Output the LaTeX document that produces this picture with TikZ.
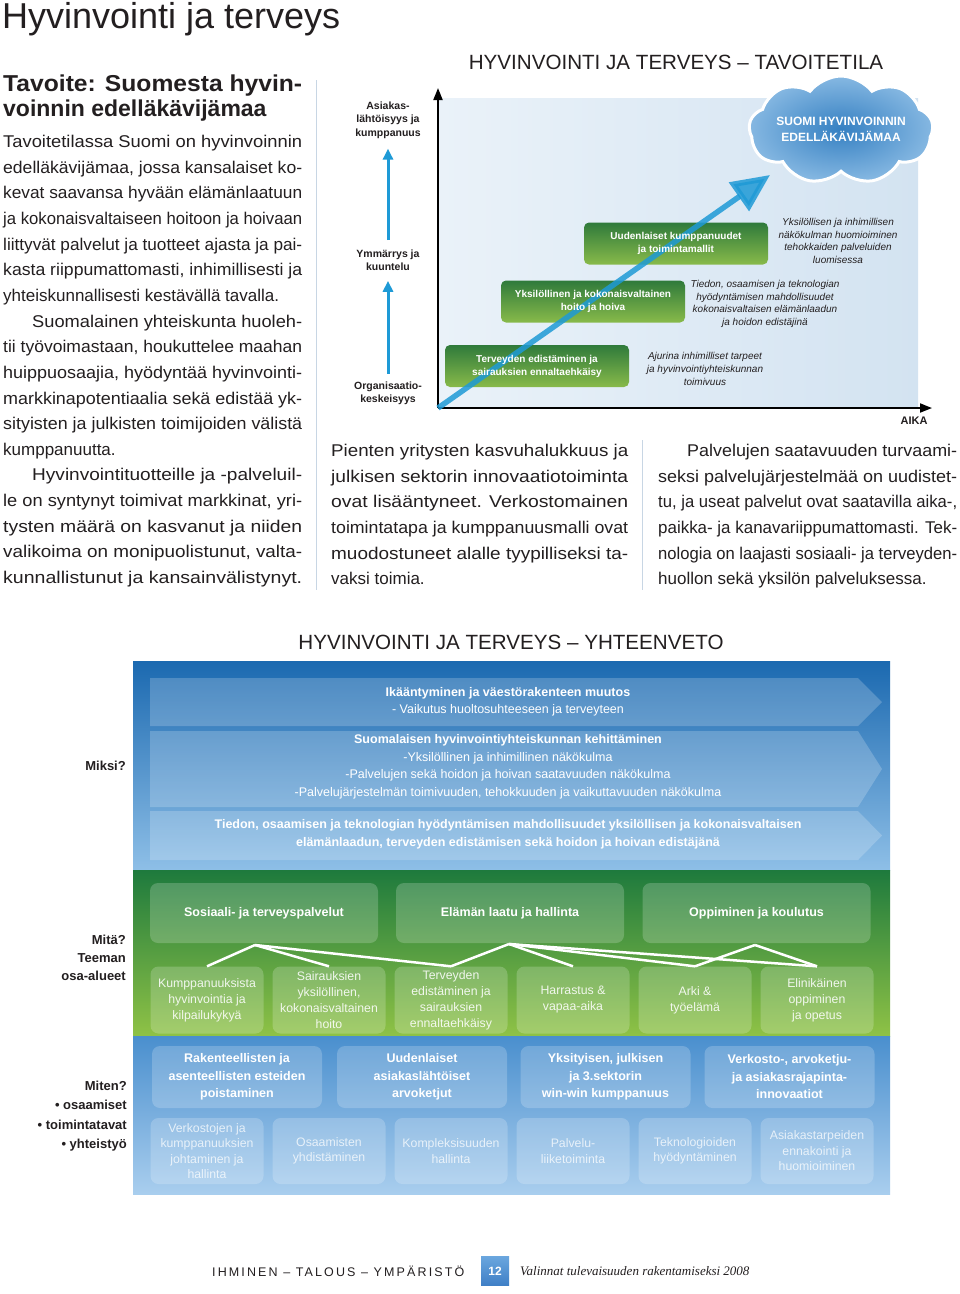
\documentclass[tikz,border=0pt]{standalone}
\usepackage{fontspec}
\usepackage{graphicx}
\setmainfont{Liberation Sans}
\newfontfamily\footserif{Liberation Serif}
\usetikzlibrary{arrows.meta,shapes.symbols}
\definecolor{HTText}{HTML}{231F20}
\definecolor{HTRule}{HTML}{C8D6E4}
\definecolor{HTSky}{HTML}{1E9AD6}
\definecolor{HTChartA}{HTML}{EAF2F9}
\definecolor{HTChartB}{HTML}{D3E3F1}
\definecolor{HTLeafDark}{HTML}{2F7A3B}
\definecolor{HTLeafLight}{HTML}{88BA4A}
\definecolor{HTCloudIn}{HTML}{3580C2}
\definecolor{HTCloudOut}{HTML}{86B8E2}
\definecolor{HTNavy}{HTML}{1B69B0}
\definecolor{HTPale}{HTML}{8EBFE7}
\definecolor{HTForest}{HTML}{1E7A3D}
\definecolor{HTLime}{HTML}{8FC246}
\definecolor{HTMid}{HTML}{4A8FCE}
\definecolor{HTIce}{HTML}{A9CEEE}
\definecolor{HTPageTop}{HTML}{6AA6DE}
\definecolor{HTPageBot}{HTML}{3F7FC6}
\newsavebox\jlbox
\newcommand\jl[2][299pt]{\sbox\jlbox{#2}\resizebox{#1}{\ht\jlbox}{\usebox\jlbox}}
\tikzset{
  body/.style={anchor=north west,inner sep=0pt,align=left,text=HTText,font=\fontsize{17}{25.65}\selectfont},
  axislabel/.style={align=center,inner sep=0pt,text=HTText,font=\fontsize{10.5}{13.5}\selectfont\bfseries},
  climb/.style={HTSky,line width=3pt,-{Triangle[length=11pt,width=10pt]}},
  axis/.style={black,line width=1.8pt,-{Triangle[length=12pt,width=9pt]}},
  rise/.style={HTSky,line width=5.5pt,opacity=.85,-{Triangle[length=38pt,width=34pt]}},
  stagebox/.style={rounded corners=5pt,top color=HTLeafDark,bottom color=HTLeafLight,minimum width=184pt,minimum height=42pt,inner sep=0pt},
  stagetext/.style={align=center,inner sep=0pt,text=white,font=\fontsize{10}{13}\selectfont\bfseries},
  note/.style={align=center,inner sep=0pt,text=HTText,font=\fontsize{10}{12.7}\selectfont\itshape},
  band/.style={fill=white,fill opacity=.2},
  bandtext/.style={align=center,inner sep=0pt,text=white,font=\fontsize{12.5}{17.5}\selectfont},
  sidelabel/.style={anchor=east,align=right,inner sep=0pt,text=HTText,font=\fontsize{13}{18}\selectfont\bfseries},
  tile/.style={rounded corners=8pt,fill=white,fill opacity=.2,text opacity=1,inner sep=0pt,align=center,text=white},
  areatile/.style={tile,minimum width=228pt,minimum height=60pt,font=\fontsize{12.5}{17.5}\selectfont\bfseries},
  subtile/.style={tile,minimum width=113pt,minimum height=67pt,text opacity=.88,font=\fontsize{12.3}{16}\selectfont},
  waytile/.style={tile,minimum width=170pt,minimum height=62pt,font=\fontsize{12.5}{17.5}\selectfont\bfseries},
  howtile/.style={tile,minimum width=113pt,minimum height=66pt,text opacity=.75,font=\fontsize{12.3}{15.5}\selectfont},
  twig/.style={white,line width=2.5pt}
}
\begin{document}
\begin{tikzpicture}[x=1pt,y=-1pt]
\path[use as bounding box] (0,0) rectangle (960,1294);
\fill[white] (0,0) rectangle (960,1294);
% page heading
\node[anchor=base west,inner sep=0pt,text=HTText,font=\fontsize{36}{40}\selectfont] (pagetitle) at (2,28) {Hyvinvointi ja terveys};
% left column
\node[body,font=\fontsize{23}{25}\selectfont\bfseries] (goalhead) at (3,75) {\jl{Tavoite: Suomesta hyvin-}\\voinnin edelläkävijämaa};
\node[body] (goaltext) at (3,135) {%
\jl{Tavoitetilassa Suomi on hyvinvoinnin}\\
\jl{edelläkävijämaa, jossa kansalaiset ko-}\\
\jl{kevat saavansa hyvään elämänlaatuun}\\
\jl{ja kokonaisvaltaiseen hoitoon ja hoivaan}\\
\jl{liittyvät palvelut ja tuotteet ajasta ja pai-}\\
\jl{kasta riippumattomasti, inhimillisesti ja}\\
yhteiskunnallisesti kestävällä tavalla.\\
\hspace*{29pt}\jl[270pt]{Suomalainen yhteiskunta huoleh-}\\
\jl{tii työvoimastaan, houkuttelee maahan}\\
\jl{huippuosaajia, hyödyntää hyvinvointi-}\\
\jl{markkinapotentiaalia sekä edistää yk-}\\
\jl{sityisten ja julkisten toimijoiden välistä}\\
kumppanuutta.\\
\hspace*{29pt}\jl[270pt]{Hyvinvointituotteille ja -palveluil-}\\
\jl{le on syntynyt toimivat markkinat, yri-}\\
\jl{tysten määrä on kasvanut ja niiden}\\
\jl{valikoima on monipuolistunut, valta-}\\
\jl{kunnallistunut ja kansainvälistynyt.}};
\draw[HTRule,line width=1pt] (316,80) -- (316,590);
\draw[HTRule,line width=1pt] (642,440) -- (642,590);
% middle and right columns
\node[body] (smetext) at (331,444) {%
\jl[297pt]{Pienten yritysten kasvuhalukkuus ja}\\
\jl[297pt]{julkisen sektorin innovaatiotoiminta}\\
\jl[297pt]{ovat lisääntyneet. Verkostomainen}\\
\jl[297pt]{toimintatapa ja kumppanuusmalli ovat}\\
\jl[297pt]{muodostuneet alalle tyypilliseksi ta-}\\
vaksi toimia.};
\node[body] (servtext) at (658,444) {%
\hspace*{29pt}\jl[270pt]{Palvelujen saatavuuden turvaami-}\\
\jl{seksi palvelujärjestelmää on uudistet-}\\
\jl{tu, ja useat palvelut ovat saatavilla aika-,}\\
\jl{paikka- ja kanavariippumattomasti. Tek-}\\
\jl{nologia on laajasti sosiaali- ja terveyden-}\\
huollon sekä yksilön palveluksessa.};
% target state chart
\node[inner sep=0pt,text=HTText,font=\fontsize{20.6}{24}\selectfont] (charttitle) at (676,62) {HYVINVOINTI JA TERVEYS – TAVOITETILA};
\shade[left color=HTChartA,right color=HTChartB] (438,98) rectangle (918,408);
\node[axislabel] (asi) at (388,120) {Asiakas-\\lähtöisyys ja\\kumppanuus};
\node[axislabel] (ymm) at (388,260) {Ymmärrys ja\\kuuntelu};
\node[axislabel] (org) at (388,393.5) {Organisaatio-\\keskeisyys};
\draw[climb] ([yshift=9pt]ymm.north) -- ([yshift=-10pt]asi.south);
\draw[climb] ([yshift=8pt]org.north) -- ([yshift=-10pt]ymm.south);
\coordinate (o) at (438,408);
\coordinate (ytip) at (438,88);
\coordinate (xtip) at (932,408);
\coordinate (risetip) at (770,175);
\draw[axis] (o) -- (ytip);
\draw[axis] (o) -- (xtip);
\node[inner sep=0pt,text=HTText,font=\fontsize{11}{13}\selectfont\bfseries] (aika) at (914,421) {AIKA};
\node[cloud,cloud puffs=9,cloud puff arc=105,cloud ignores aspect,minimum width=184pt,minimum height=108pt,inner sep=0pt,inner color=HTCloudIn,outer color=HTCloudOut,draw=white,line width=3pt] (goal) at (841,130) {};
\node[align=center,inner sep=0pt,text=white,font=\fontsize{12}{16}\selectfont\bfseries] (goaltext) at (841,129.5) {SUOMI HYVINVOINNIN\\EDELLÄKÄVIJÄMAA};
\node[stagebox] (stage1) at (537,366) {};
\node[stagebox] (stage2) at (593,301.5) {};
\node[stagebox] (stage3) at (676,243.5) {};
\draw[rise] (o) -- (risetip);
\node[stagetext] at (stage1) {Terveyden edistäminen ja\\sairauksien ennaltaehkäisy};
\node[stagetext] at (stage2) {Yksilöllinen ja kokonaisvaltainen\\hoito ja hoiva};
\node[stagetext] at (stage3) {Uudenlaiset kumppanuudet\\ja toimintamallit};
\node[note] (note1) at (705,369) {Ajurina inhimilliset tarpeet\\ja hyvinvointiyhteiskunnan\\toimivuus};
\node[note] (note2) at (765,304) {Tiedon, osaamisen ja teknologian\\hyödyntämisen mahdollisuudet\\kokonaisvaltaisen elämänlaadun\\ja hoidon edistäjinä};
\node[note] (note3) at (838,241) {Yksilöllisen ja inhimillisen\\näkökulman huomioiminen\\tehokkaiden palveluiden\\luomisessa};
% summary
\node[inner sep=0pt,text=HTText,font=\fontsize{20.6}{24}\selectfont] (sumtitle) at (511,642) {HYVINVOINTI JA TERVEYS – YHTEENVETO};
\shade[top color=HTNavy,bottom color=HTPale] (133,661) rectangle (890,870);
\shade[top color=HTForest,bottom color=HTLime] (133,870) rectangle (890,1036);
\shade[top color=HTMid,bottom color=HTIce] (133,1036) rectangle (890,1194);
\fill[band] (150,678) -- (858,678) -- (882,702) -- (858,726) -- (150,726) -- cycle;
\fill[band] (150,731) -- (858,731) -- (882,769) -- (858,807) -- (150,807) -- cycle;
\fill[band] (150,811) -- (858,811) -- (882,835.5) -- (858,860) -- (150,860) -- cycle;
\node[bandtext] (why1) at (508,702) {\textbf{Ikääntyminen ja väestörakenteen muutos}\\- Vaikutus huoltosuhteeseen ja terveyteen};
\node[bandtext] (why2) at (508,767) {\textbf{Suomalaisen hyvinvointiyhteiskunnan kehittäminen}\\-Yksilöllinen ja inhimillinen näkökulma\\-Palvelujen sekä hoidon ja hoivan saatavuuden näkökulma\\-Palvelujärjestelmän toimivuuden, tehokkuuden ja vaikuttavuuden näkökulma};
\node[bandtext,font=\fontsize{12.5}{17.5}\selectfont\bfseries] (why3) at (508,834.5) {Tiedon, osaamisen ja teknologian hyödyntämisen mahdollisuudet yksilöllisen ja kokonaisvaltaisen\\elämänlaadun, terveyden edistämisen sekä hoidon ja hoivan edistäjänä};
\node[sidelabel] (miksi) at (126,766) {Miksi?};
\node[sidelabel] (mita) at (126,958) {Mitä?\\Teeman\\osa-alueet};
\node[sidelabel,font=\fontsize{13}{19.3}\selectfont\bfseries] (miten) at (127,1116) {Miten?\\\textbullet\ osaamiset\\\textbullet\ toimintatavat\\\textbullet\ yhteistyö};
% theme areas
\node[areatile] (area1) at (264,913) {Sosiaali- ja terveyspalvelut};
\node[areatile] (area2) at (510,913) {Elämän laatu ja hallinta};
\node[areatile] (area3) at (756.5,913) {Oppiminen ja koulutus};
\node[subtile] (sub1) at (207,1000) {Kumppanuuksista\\hyvinvointia ja\\kilpailukykyä};
\node[subtile] (sub2) at (329,1000) {Sairauksien\\yksilöllinen,\\kokonaisvaltainen\\hoito};
\node[subtile] (sub3) at (451,1000) {Terveyden\\edistäminen ja\\sairauksien\\ennaltaehkäisy};
\node[subtile] (sub4) at (573,1000) {Harrastus \&\\vapaa-aika};
\node[subtile] (sub5) at (695,1000) {Arki \&\\työelämä};
\node[subtile] (sub6) at (817,1000) {Elinikäinen\\oppiminen\\ja opetus};
\coordinate (jA) at (255,945);
\coordinate (jB) at (509,944);
\coordinate (jC) at (755,945);
\draw[twig] (jA) -- (sub1.north);
\draw[twig] (jA) -- (sub2.north);
\draw[twig] (jA) -- (sub3.north);
\draw[twig] (jB) -- (sub3.north);
\draw[twig] (jB) -- (sub4.north);
\draw[twig] (jB) -- (sub5.north);
\draw[twig] (jB) -- (sub6.north);
\draw[twig] (jC) -- (sub5.north);
\draw[twig] (jC) -- (sub6.north);
% ways of working
\node[waytile] (way1) at (237,1077) {Rakenteellisten ja\\asenteellisten esteiden\\poistaminen};
\node[waytile] (way2) at (422,1077) {Uudenlaiset\\asiakaslähtöiset\\arvoketjut};
\node[waytile] (way3) at (605.5,1077) {Yksityisen, julkisen\\ja 3.sektorin\\win-win kumppanuus};
\node[waytile] (way4) at (789.5,1077) {Verkosto-, arvoketju-\\ja asiakasrajapinta-\\innovaatiot};
\node[howtile] (how1) at (207,1151) {Verkostojen ja\\kumppanuuksien\\johtaminen ja\\hallinta};
\node[howtile] (how2) at (329,1151) {Osaamisten\\yhdistäminen};
\node[howtile] (how3) at (451,1151) {Kompleksisuuden\\hallinta};
\node[howtile] (how4) at (573,1151) {Palvelu-\\liiketoiminta};
\node[howtile] (how5) at (695,1151) {Teknologioiden\\hyödyntäminen};
\node[howtile] (how6) at (817,1151) {Asiakastarpeiden\\ennakointi ja\\huomioiminen};
% footer
\node[anchor=west,inner sep=0pt,text=HTText,font=\fontsize{12.5}{15}\selectfont\addfontfeatures{LetterSpace=17}] (motto) at (212,1271) {IHMINEN – TALOUS – YMPÄRISTÖ};
\node[top color=HTPageTop,bottom color=HTPageBot,minimum width=28pt,minimum height=29pt,inner sep=0pt,text=white,font=\fontsize{12}{14}\selectfont\bfseries] (pageno) at (495,1271) {12};
\node[anchor=west,inner sep=0pt,text=HTText,font=\footserif\itshape\fontsize{13}{15}\selectfont] (series) at (520,1271) {Valinnat tulevaisuuden rakentamiseksi 2008};
\end{tikzpicture}
\end{document}
